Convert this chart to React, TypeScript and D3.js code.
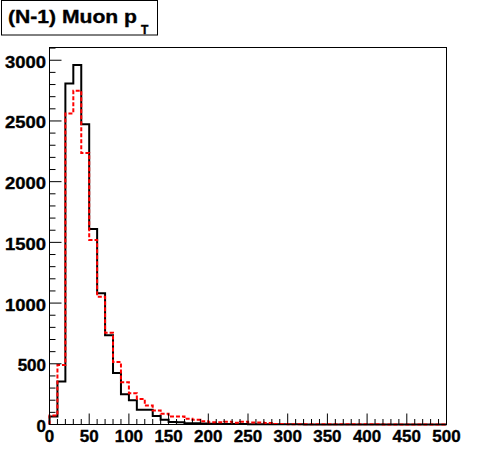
import React from "react";
import * as d3 from "d3";

const binEdges = d3.range(0, 501, 10);
const blackCounts = [65, 355, 2809, 2960, 2472, 1611, 1081, 735, 425, 250, 200, 121, 121, 70, 40, 20, 19, 11, 11, 8, 6, 5, 5, 4, 4, 3, 3, 3, 2, 2, 2, 2, 1, 1, 1, 1, 1, 1, 1, 1, 1, 1, 0, 1, 0, 0, 1, 0, 0, 0];
const redCounts = [75, 490, 2562, 2749, 2236, 1520, 1053, 755, 515, 348, 258, 211, 156, 115, 88, 66, 66, 47, 39, 27, 19, 19, 22, 14, 22, 16, 16, 12, 4, 4, 3, 3, 3, 2, 2, 2, 2, 2, 2, 2, 2, 2, 1, 1, 1, 1, 1, 1, 1, 1];
const xTickLabels = [0, 50, 100, 150, 200, 250, 300, 350, 400, 450, 500];
const yTickLabels = [0, 500, 1000, 1500, 2000, 2500, 3000];
const yMax = 3105;

const W = 496, H = 472;
const L = 49.5, R = 446.5, T = 47.5, B = 424.5;
const FONT = "'Liberation Sans', Arial, Helvetica, sans-serif";

export default function App() {
  const x = d3.scaleLinear().domain([0, 500]).range([L, R]);
  const y = d3.scaleLinear().domain([0, yMax]).range([B, T]);

  const stepPath = (vals: number[]) => {
    const pts: [number, number][] = [[x(binEdges[0]), y(0)]];
    vals.forEach((v, i) => {
      pts.push([x(binEdges[i]), y(v)]);
      pts.push([x(binEdges[i + 1]), y(v)]);
    });
    pts.push([x(binEdges[binEdges.length - 1]), y(0)]);
    return d3.line()(pts) || "";
  };

  const xMinor = d3.range(0, 501, 10);
  const yMinor = d3.range(0, yMax, 100);
  const textStyle = { fontFamily: FONT, fontWeight: "bold" as const, fill: "#000", stroke: "#000", strokeWidth: 0.35 };

  return (
    <svg width={W} height={H} style={{ position: "absolute", left: 0, top: 0, background: "#fff" }}>
      <rect x={0} y={0} width={W} height={H} fill="#fff" />
      <rect x={L} y={T} width={R - L} height={B - T} fill="none" stroke="#000" strokeWidth={1} />
      <path d={stepPath(blackCounts)} fill="none" stroke="#000" strokeWidth={2} />
      <path d={stepPath(redCounts)} fill="none" stroke="#ff0000" strokeWidth={2} strokeDasharray="4,2" />
      {xMinor.map((v) => {
        const major = v % 50 === 0;
        return <line key={"xt" + v} x1={x(v)} x2={x(v)} y1={B} y2={B - (major ? 11 : 5.5)} stroke="#000" strokeWidth={1} />;
      })}
      {yMinor.map((v) => {
        const major = v % 500 === 0;
        return <line key={"yt" + v} x1={L} x2={L + (major ? 12 : 6)} y1={y(v)} y2={y(v)} stroke="#000" strokeWidth={1} />;
      })}
      <line x1={L} x2={L} y1={T} y2={B} stroke="#000" strokeWidth={1} />
      <line x1={L} x2={R} y1={B} y2={B} stroke="#000" strokeWidth={1} />
      {xTickLabels.map((v) => (
        <text key={"xl" + v} x={x(v)} y={442} textAnchor="middle" fontSize={17} style={textStyle}>
          {v}
        </text>
      ))}
      {yTickLabels.map((v) => {
        const s = String(v);
        const extra = s.length === 4 ? { textLength: 41, lengthAdjust: "spacingAndGlyphs" } : {};
        return (
          <text key={"yl" + v} x={46} y={y(v) + 7.5} textAnchor="end" fontSize={17} style={textStyle} {...extra}>
            {s}
          </text>
        );
      })}
      <rect x={1.5} y={0.5} width={156} height={34.5} fill="#fff" stroke="#000" strokeWidth={1} />
      <text x={8} y={23} fontSize={19} style={textStyle} textLength={129} lengthAdjust="spacingAndGlyphs">
        (N-1) Muon p
      </text>
      <text x={141} y={34} fontSize={12} style={textStyle}>
        T
      </text>
    </svg>
  );
}
